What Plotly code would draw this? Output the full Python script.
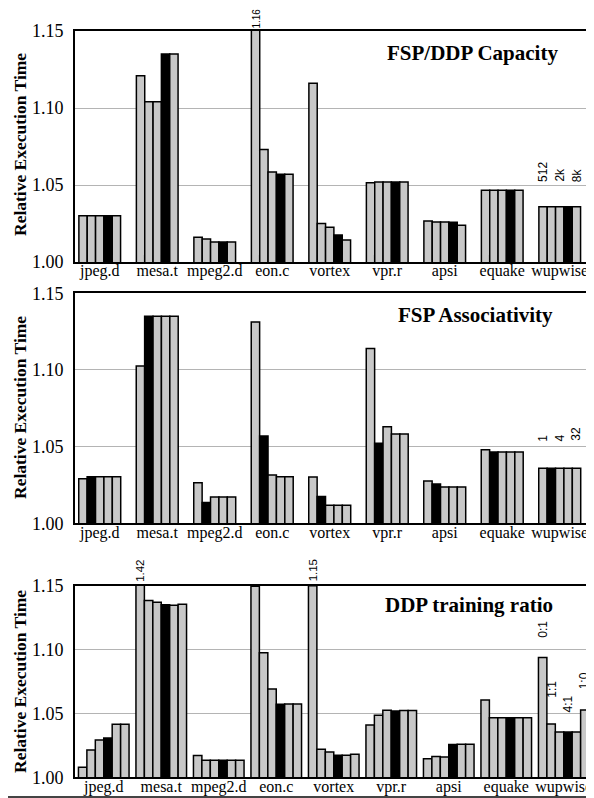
import plotly.graph_objects as go

# ---------------- data ----------------
benchmarks = ["jpeg.d", "mesa.t", "mpeg2.d", "eon.c", "vortex", "vpr.r", "apsi", "equake", "wupwise"]

# Panel 1: FSP/DDP Capacity (5 configurations, 4th highlighted)
cap_names = ["512", "1k", "2k", "4k", "8k"]
cap_512 = [1.030, 1.121, 1.016, 1.160, 1.116, 1.0515, 1.0267, 1.0466, 1.0358]
cap_1k = [1.030, 1.104, 1.015, 1.073, 1.025, 1.052, 1.026, 1.0466, 1.0358]
cap_2k = [1.030, 1.104, 1.013, 1.0585, 1.0225, 1.052, 1.026, 1.0466, 1.0358]
cap_4k = [1.030, 1.135, 1.013, 1.057, 1.0175, 1.052, 1.0258, 1.0466, 1.0358]
cap_8k = [1.030, 1.135, 1.013, 1.057, 1.0143, 1.052, 1.0238, 1.0466, 1.0358]

# Panel 2: FSP Associativity (5 configurations, 2nd highlighted)
assoc_names = ["1", "2", "4", "16", "32"]
assoc_1 = [1.0291, 1.1026, 1.0265, 1.1313, 1.0302, 1.114, 1.0276, 1.048, 1.0359]
assoc_2 = [1.0304, 1.135, 1.0135, 1.057, 1.0174, 1.0522, 1.0257, 1.0465, 1.0359]
assoc_4 = [1.0304, 1.135, 1.0172, 1.0315, 1.0117, 1.063, 1.0237, 1.0465, 1.0359]
assoc_16 = [1.0304, 1.135, 1.0172, 1.0304, 1.0117, 1.0583, 1.0237, 1.0465, 1.0359]
assoc_32 = [1.0304, 1.135, 1.0172, 1.0304, 1.0117, 1.0583, 1.0237, 1.0465, 1.0359]

# Panel 3: DDP training ratio (6 configurations, 4th highlighted)
ratio_names = ["0:1", "1:1", "2:1", "4:1", "8:1", "1:0"]
ratio_0_1 = [1.0078, 1.42, 1.017, 1.1495, 1.15, 1.041, 1.0146, 1.0605, 1.0937]
ratio_1_1 = [1.0214, 1.1385, 1.0133, 1.0976, 1.0219, 1.0485, 1.0162, 1.0467, 1.0417]
ratio_2_1 = [1.0292, 1.137, 1.0133, 1.0691, 1.0198, 1.0524, 1.0159, 1.0467, 1.0355]
ratio_4_1 = [1.0308, 1.135, 1.0133, 1.0571, 1.0172, 1.0519, 1.0256, 1.0467, 1.0355]
ratio_8_1 = [1.0415, 1.1346, 1.0133, 1.0574, 1.0172, 1.0522, 1.0258, 1.0467, 1.0355]
ratio_1_0 = [1.0415, 1.1354, 1.0133, 1.0574, 1.018, 1.0522, 1.0258, 1.0467, 1.0527]

y_ticks = [1.00, 1.05, 1.10, 1.15]
y_ticktext = ["1.00", "1.05", "1.10", "1.15"]

# ---------------- figure ----------------
# The page body keeps its default 8px margin, so the figure is drawn 8px in.
OFF = 8
W, H = 594 - OFF, 798 - OFF


def px(x):
    return (x - OFF) / W


def py(y):
    return 1 - (y - OFF) / H


GRAY = "#c8c8c8"
SERIF = "Liberation Serif, Times New Roman, Times, serif"
SANS = "Liberation Sans, Arial, sans-serif"

panels = [
    dict(title="FSP/DDP Capacity", names=cap_names,
         series=[cap_512, cap_1k, cap_2k, cap_4k, cap_8k], black=3,
         top=31, bottom=262, xr=[-0.43, 8.57], gw=0.725,
         title_xy=(472.5, 53), ytitle_c=145,
         top_labels=[(3, 0, "1.16", 10, 1)],
         wup_labels=[(0, "512", 23), (2, "2k", 23), (4, "8k", 23)]),
    dict(title="FSP Associativity", names=assoc_names,
         series=[assoc_1, assoc_2, assoc_4, assoc_16, assoc_32], black=1,
         top=293.3, bottom=523.3, xr=[-0.43, 8.57], gw=0.73,
         title_xy=(475, 315), ytitle_c=408,
         top_labels=[],
         wup_labels=[(0, "1", 25), (2, "4", 25), (4, "32", 25)]),
    dict(title="DDP training ratio", names=ratio_names,
         series=[ratio_0_1, ratio_1_1, ratio_2_1, ratio_4_1, ratio_8_1, ratio_1_0], black=3,
         top=585.7, bottom=777.3, xr=[-0.5, 8.5], gw=0.88,
         title_xy=(469, 605), ytitle_c=682,
         top_labels=[(1, 0, "1.42", 11.5, 3), (4, 0, "1.15", 11.5, 3)],
         wup_labels=[(0, "0:1", 18), (1, "1:1", 24), (3, "4:1", 18), (5, "1:0", 19)]),
]

fig = go.Figure()
annotations = []
xs = list(range(len(benchmarks)))

for p_i, p in enumerate(panels):
    ax = "" if p_i == 0 else str(p_i + 1)
    n = len(p["series"])
    bw = p["gw"] / n
    for k, vals in enumerate(p["series"]):
        fig.add_trace(go.Bar(
            x=xs, y=vals, name=p["names"][k],
            width=bw, offset=-p["gw"] / 2 + k * bw,
            marker=dict(color="black" if k == p["black"] else GRAY,
                        line=dict(color="black", width=1.5)),
            xaxis="x" + ax, yaxis="y" + ax, showlegend=False,
        ))
    ydom = [py(p["bottom"]), py(p["top"])]
    fig.update_layout(**{
        "xaxis" + ax: dict(
            domain=[px(75), px(592.5)], range=p["xr"], anchor="y" + ax,
            tickmode="array", tickvals=xs, ticktext=benchmarks,
            showgrid=False, zeroline=False, showline=True, mirror=True,
            linecolor="black", linewidth=2, ticks="", automargin=False,
            ticklabelstandoff=-7,
            tickfont=dict(family=SERIF, size=16, color="black"),
        ),
        "yaxis" + ax: dict(
            domain=ydom, range=[1.0, 1.15], anchor="x" + ax,
            tickmode="array", tickvals=y_ticks, ticktext=y_ticktext,
            showgrid=True, gridcolor="#b4b4b4", gridwidth=1.2,
            zeroline=False, showline=True, mirror=True, automargin=False,
            linecolor="black", linewidth=2, ticks="", ticklabelstandoff=6,
            tickfont=dict(family=SERIF, size=18, color="black"),
        ),
    })
    # panel title
    annotations.append(dict(
        xref="paper", yref="paper", x=px(p["title_xy"][0]), y=py(p["title_xy"][1]),
        text="<b>" + p["title"] + "</b>", showarrow=False,
        xanchor="center", yanchor="middle",
        font=dict(family=SERIF, size=21, color="black"),
    ))
    # y axis title
    annotations.append(dict(
        xref="paper", yref="paper", x=px(20), y=py(p["ytitle_c"]),
        text="<b>Relative Execution Time</b>", showarrow=False, textangle=-90,
        xanchor="center", yanchor="middle",
        font=dict(family=SERIF, size=17.5, color="black"),
    ))
    # off-scale bar values above the frame
    for g, k, txt, fs, sh in p["top_labels"]:
        annotations.append(dict(
            xref="x" + ax, yref="y" + ax,
            x=g - p["gw"] / 2 + (k + 0.5) * bw, y=1.15,
            text=txt, showarrow=False, textangle=-90,
            xanchor="center", yanchor="bottom", yshift=sh, borderpad=0,
            font=dict(family=SANS, size=fs, color="black"),
        ))
    # configuration labels over wupwise
    g = len(benchmarks) - 1
    for k, txt, sh in p["wup_labels"]:
        annotations.append(dict(
            xref="x" + ax, yref="y" + ax,
            x=g - p["gw"] / 2 + (k + 0.5) * bw, y=p["series"][k][g],
            text=txt, showarrow=False, textangle=-90,
            xanchor="center", yanchor="bottom", yshift=sh,
            font=dict(family=SANS, size=12, color="black"),
        ))

fig.update_layout(
    width=W, height=H,
    margin=dict(l=0, r=0, t=0, b=0, autoexpand=False),
    paper_bgcolor="white", plot_bgcolor="white",
    barmode="overlay",
    annotations=annotations,
    shapes=[dict(type="line", xref="paper", yref="paper",
                 x0=0, x1=1, y0=py(797), y1=py(797),
                 line=dict(color="#444444", width=1.8))],
)

fig.write_html("out.html")
